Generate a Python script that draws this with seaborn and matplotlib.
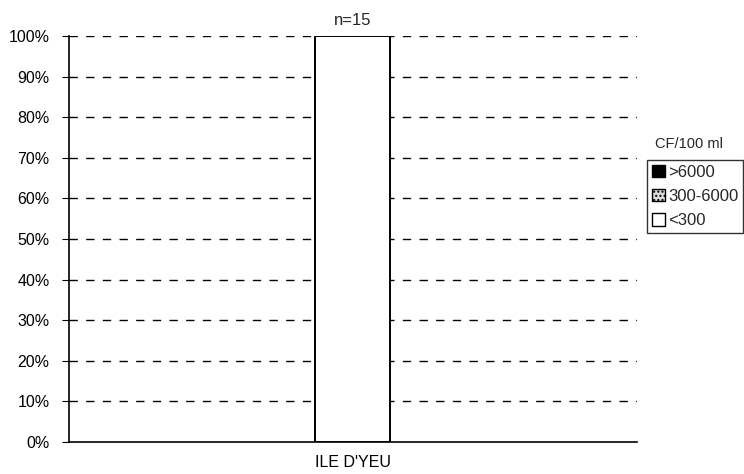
import pandas as pd
import matplotlib
matplotlib.use("Agg")
import matplotlib.pyplot as plt
import matplotlib.patches as mpatches
import seaborn as sns
from matplotlib.ticker import PercentFormatter, MultipleLocator

sites = ["ILE D'YEU"]
counts = [15]
classes = [">6000", "300-6000", "<300"]
share_high = [0]
share_mid = [0]
share_low = [100]


def main():
    sns.set_style("white")
    plt.rcParams["font.family"] = ["Liberation Sans", "DejaVu Sans"]

    df = pd.DataFrame({"Site": sites, ">6000": share_high,
                       "300-6000": share_mid, "<300": share_low})

    fig = plt.figure(figsize=(7.44, 4.74), dpi=100)
    ax = fig.add_axes([0.0927, 0.0675, 0.7634, 0.8565])

    for y in range(10, 101, 10):
        ax.axhline(y, color="black", linestyle=(0, (6, 6)), linewidth=1.0, zorder=0)

    styles = {">6000": dict(color="black"),
              "300-6000": dict(color="#dddddd", hatch="...."),
              "<300": dict(color="white")}
    bottom = pd.Series([0.0] * len(df))
    for c in classes:
        sns.barplot(data=df, x="Site", y=c, ax=ax, width=0.132, bottom=bottom,
                    edgecolor="black", linewidth=1.4, zorder=3, **styles[c])
        bottom = bottom + df[c]

    for i, n in enumerate(counts):
        ax.text(i, 102, f"n={n}", ha="center", va="bottom", fontsize=12)

    ax.set_ylim(0, 100)
    ax.set_xlim(-0.5, 0.5)
    ax.yaxis.set_major_locator(MultipleLocator(10))
    ax.yaxis.set_major_formatter(PercentFormatter(decimals=0))
    ax.set_xlabel("")
    ax.set_ylabel("")
    ax.tick_params(axis="y", length=5, width=0.8, direction="out", labelsize=11.5,
                   left=True, pad=9, colors="black")
    ax.tick_params(axis="x", length=0, labelsize=11.5, pad=9, colors="black")
    sns.despine(ax=ax, top=True, right=True)
    for s in ("left", "bottom"):
        ax.spines[s].set_color("black")
        ax.spines[s].set_linewidth(1.2)

    handles = [mpatches.Patch(facecolor="black", edgecolor="black", label=">6000"),
               mpatches.Patch(facecolor="#dddddd", edgecolor="black", hatch="....", label="300-6000"),
               mpatches.Patch(facecolor="white", edgecolor="black", label="<300")]
    leg = fig.legend(handles=handles, loc="upper left", bbox_to_anchor=(647 / 744, 1 - 160 / 474),
                     frameon=True, fancybox=False, fontsize=12, handlelength=0.75,
                     handleheight=0.75, handletextpad=0.2, borderpad=0.3,
                     labelspacing=0.55, borderaxespad=0)
    leg.get_frame().set_edgecolor("black")
    leg.get_frame().set_linewidth(1.0)
    fig.text(689 / 744, 1 - 144 / 474, "CF/100 ml", ha="center", va="center", fontsize=10.5)

    fig.savefig("out.png", dpi=100)


if __name__ == "__main__":
    main()
